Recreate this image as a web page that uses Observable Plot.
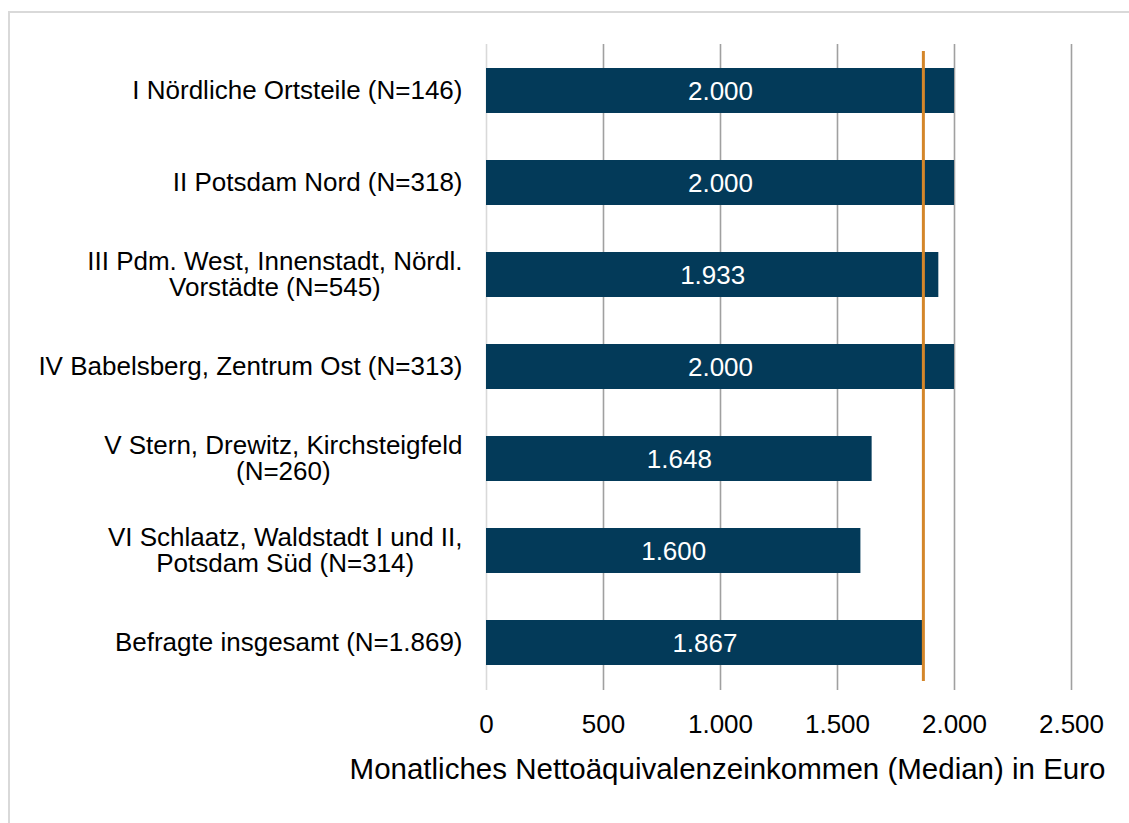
<!DOCTYPE html>
<html>
<head>
<meta charset="utf-8">
<script src="https://cdn.jsdelivr.net/npm/d3@7"></script>
<script src="https://cdn.jsdelivr.net/npm/@observablehq/plot@0.6"></script>
<style>
  html, body { margin: 0; padding: 0; background: #fff; }
  #wrap { position: relative; width: 1129px; height: 823px; overflow: hidden; }
  #border { position: absolute; left: 8px; top: 11px; width: 1140px; height: 830px; border: 2px solid #d9d9d9; box-sizing: border-box; }
  #chart { position: absolute; left: 0; top: 0; }
  svg { font-family: "Liberation Sans", Arial, sans-serif; }
</style>
</head>
<body>
<div id="wrap"><div id="border"></div><div id="chart"></div></div>
<script>
const categories = [
  "I Nördliche Ortsteile (N=146)",
  "II Potsdam Nord (N=318)",
  "III Pdm. West, Innenstadt, Nördl.\nVorstädte (N=545)",
  "IV Babelsberg, Zentrum Ost (N=313)",
  "V Stern, Drewitz, Kirchsteigfeld\n(N=260)",
  "VI Schlaatz, Waldstadt I und II,\nPotsdam Süd (N=314)",
  "Befragte insgesamt (N=1.869)"
];
const values = [2000, 2000, 1933, 2000, 1648, 1600, 1867];
const overallMedian = 1867;
const xTicks = [0, 500, 1000, 1500, 2000, 2500];
const xLabel = "Monatliches Nettoäquivalenzeinkommen (Median) in Euro";

const de = d3.formatLocale({decimal: ",", thousands: ".", grouping: [3], currency: ["", " €"]});
const fmt = de.format(",");

const data = categories.map((c, i) => ({category: c, value: values[i]}));

const chart = Plot.plot({
  width: 1129,
  height: 823,
  marginLeft: 486,
  marginRight: 58,
  marginTop: 44,
  marginBottom: 133,
  style: {fontFamily: "Liberation Sans, Arial, sans-serif", fontSize: "26px", color: "#000", background: "transparent"},
  x: {domain: [0, 2500], axis: null},
  y: {domain: categories, paddingInner: 0.51, paddingOuter: 0.255, axis: null},
  marks: [
    Plot.ruleX(xTicks.filter(d => d !== 0), {stroke: "#a0a0a0", strokeWidth: 1.6}),
    Plot.ruleX([0], {stroke: "#d9d9d9", strokeWidth: 1.6}),
    Plot.barX(data, {x: "value", y: "category", fill: "#033a59"}),
    Plot.text(data, {x: d => d.value / 2, y: "category", text: d => fmt(d.value), fill: "#fff", fontSize: 26, dy: 1}),
    Plot.text(data, {x: 0, y: "category", text: "category", textAnchor: "end", dx: -24, fontSize: 26, lineHeight: 1.0, fill: "#000"}),
    Plot.ruleX([overallMedian], {stroke: "#d4862a", strokeWidth: 3, insetTop: 7, insetBottom: 9}),
    Plot.axisX(xTicks, {tickFormat: fmt, tickSize: 0, tickPadding: 0, fontSize: 26, dy: 24, fill: "#000", label: null}),
    Plot.text([xLabel], {frameAnchor: "bottom-right", text: d => d, dy: 88, dx: 34, fontSize: 29.5, fill: "#000"})
  ]
});
document.getElementById("chart").appendChild(chart);

// Center the lines of multi-line labels within their right-aligned block (as in the reference)
chart.querySelectorAll("text").forEach(t => {
  const spans = t.querySelectorAll("tspan");
  if (spans.length < 2) return;
  const w = Math.max(...Array.from(spans, s => s.getComputedTextLength()));
  t.setAttribute("text-anchor", "middle");
  t.style.textAnchor = "middle";
  spans.forEach(s => s.setAttribute("x", "0"));
  const tr = t.getAttribute("transform") || "";
  t.setAttribute("transform", tr + ` translate(${-w / 2},0)`);
});
</script>
</body>
</html>
